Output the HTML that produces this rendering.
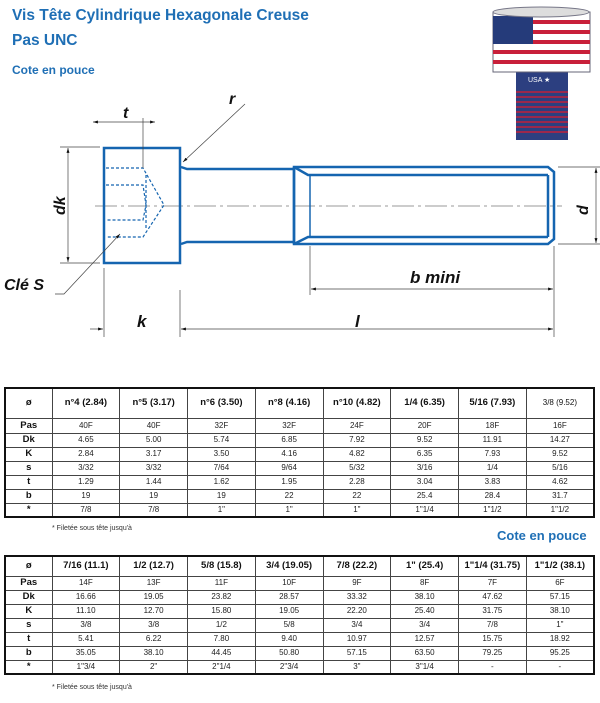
<!DOCTYPE html>
<html><head><meta charset="utf-8"><style>
body{margin:0;width:600px;height:703px;background:#fff;position:relative;overflow:hidden;font-family:"Liberation Sans",sans-serif}
.t{position:absolute;color:#1f6fb5;font-weight:bold}
table{position:absolute;left:4px;width:591px;border-collapse:collapse;border:2px solid #111;table-layout:fixed}
td{border:1px solid #444;text-align:center;font-size:8px;color:#222;padding:0;line-height:12px}
tr{height:14px}
tr.h td{font-size:9.5px;font-weight:bold;color:#111}
td:first-child{font-weight:bold;font-size:9.5px;color:#111}
.fn{position:absolute;font-size:7px;color:#333;left:52px}
</style></head><body>
<div class="t" style="left:12px;top:7px;font-size:15.5px">Vis Tête Cylindrique Hexagonale Creuse</div>
<div class="t" style="left:12px;top:32px;font-size:15.5px">Pas UNC</div>
<div class="t" style="left:12px;top:63px;font-size:12px">Cote en pouce</div>
<div class="t" style="left:497px;top:528px;font-size:13px">Cote en pouce</div>
<svg width="600" height="360" style="position:absolute;left:0;top:0">
<defs><marker id="a" viewBox="0 0 10 10" refX="10" refY="5" markerWidth="7" markerHeight="7" orient="auto-start-reverse"><path d="M0,2 L10,5 L0,8z" fill="#111"/></marker></defs>
<rect x="516" y="70" width="52" height="70" fill="#2c3f80"/>
<g stroke="#c0203a" stroke-width="1.5">
<line x1="516" y1="92" x2="568" y2="92"/><line x1="516" y1="97" x2="568" y2="97"/><line x1="516" y1="102" x2="568" y2="102"/><line x1="516" y1="107" x2="568" y2="107"/><line x1="516" y1="112" x2="568" y2="112"/><line x1="516" y1="117" x2="568" y2="117"/><line x1="516" y1="122" x2="568" y2="122"/><line x1="516" y1="127" x2="568" y2="127"/><line x1="516" y1="132" x2="568" y2="132"/></g>
<text x="528" y="82" font-size="7" fill="#fff" font-family="Liberation Sans">USA ★</text>
<rect x="493" y="12" width="97" height="60" fill="#fff" stroke="#667" />
<g fill="#c8203a"><rect x="493" y="20" width="97" height="4"/><rect x="493" y="30" width="97" height="4"/><rect x="493" y="40" width="97" height="4"/><rect x="493" y="50" width="97" height="4"/><rect x="493" y="60" width="97" height="4"/></g>
<rect x="493" y="16" width="40" height="28" fill="#253b7a"/>
<ellipse cx="541" cy="12" rx="48" ry="5" fill="#ddd" stroke="#778"/>
<line x1="95" y1="206" x2="562" y2="206" stroke="#999" stroke-width="1" stroke-dasharray="22,4,3,4"/>
<g fill="none" stroke="#1565b0" stroke-width="2.5">
<rect x="104" y="148" width="76" height="115"/>
<path d="M181,167 L187,169 L294,169 M181,244 L187,242 L294,242"/>
<path d="M294,167 L548,167 L554,172 L554,239 L548,244 L294,244 Z"/>
<line x1="294" y1="167" x2="294" y2="244"/>
<path d="M294,167 L308,175 L548,175 M294,244 L308,237 L548,237 M548,175 L548,237"/>
</g>
<line x1="310" y1="175" x2="310" y2="237" stroke="#1565b0" stroke-width="1.5"/>
<g fill="none" stroke="#1565b0" stroke-width="1.2" stroke-dasharray="3,2">
<path d="M106,168 L143,168 L164,205 L143,237 L106,237"/>
<path d="M106,185 L143,185 L146,205 L143,220 L106,220"/>
<line x1="146" y1="175" x2="146" y2="230"/>
</g>
<g stroke="#444" stroke-width="0.7" fill="none">
<line x1="60" y1="147" x2="100" y2="147"/><line x1="60" y1="263" x2="100" y2="263"/>
<line x1="68" y1="148" x2="68" y2="262" marker-start="url(#a)" marker-end="url(#a)"/>
<line x1="93" y1="122" x2="155" y2="122" marker-start="url(#a)" marker-end="url(#a)"/>
<line x1="143" y1="118" x2="143" y2="168"/>
<line x1="245" y1="104" x2="183" y2="162" marker-end="url(#a)"/>
<path d="M55,294 L64,294 L120,234" marker-end="url(#a)"/>
<line x1="104" y1="268" x2="104" y2="337"/><line x1="180" y1="290" x2="180" y2="337"/>
<line x1="310" y1="246" x2="310" y2="295"/><line x1="554" y1="246" x2="554" y2="337"/>
<line x1="558" y1="167" x2="600" y2="167"/><line x1="558" y1="244" x2="600" y2="244"/>
<line x1="596" y1="168" x2="596" y2="243" marker-start="url(#a)" marker-end="url(#a)"/>
<line x1="311" y1="289" x2="553" y2="289" marker-start="url(#a)" marker-end="url(#a)"/>
<line x1="90" y1="329" x2="103" y2="329" marker-end="url(#a)"/>
<line x1="181" y1="329" x2="553" y2="329" marker-start="url(#a)" marker-end="url(#a)"/>
</g>
<g font-family="Liberation Sans" font-style="italic" font-weight="bold" fill="#111">
<text x="123" y="118" font-size="16">t</text>
<text x="229" y="104" font-size="16">r</text>
<text transform="translate(65,215) rotate(-90)" font-size="16">dk</text>
<text transform="translate(588,215) rotate(-90)" font-size="16">d</text>
<text x="4" y="290" font-size="16">Clé S</text>
<text x="410" y="283" font-size="17">b mini</text>
<text x="137" y="327" font-size="17">k</text>
<text x="355" y="327" font-size="17">l</text>
</g>
</svg>
<table style="top:387px">
<colgroup><col style="width:47px"><col><col><col><col><col><col><col><col></colgroup>
<tr class="h" style="height:30px"><td>ø</td><td>n°4 (2.84)</td><td>n°5 (3.17)</td><td>n°6 (3.50)</td><td>n°8 (4.16)</td><td>n°10 (4.82)</td><td>1/4 (6.35)</td><td>5/16 (7.93)</td><td style="font-weight:normal;font-size:8px">3/8 (9.52)</td></tr>
<tr style="height:15px"><td>Pas</td><td>40F</td><td>40F</td><td>32F</td><td>32F</td><td>24F</td><td>20F</td><td>18F</td><td>16F</td></tr>
<tr><td>Dk</td><td>4.65</td><td>5.00</td><td>5.74</td><td>6.85</td><td>7.92</td><td>9.52</td><td>11.91</td><td>14.27</td></tr>
<tr><td>K</td><td>2.84</td><td>3.17</td><td>3.50</td><td>4.16</td><td>4.82</td><td>6.35</td><td>7.93</td><td>9.52</td></tr>
<tr><td>s</td><td>3/32</td><td>3/32</td><td>7/64</td><td>9/64</td><td>5/32</td><td>3/16</td><td>1/4</td><td>5/16</td></tr>
<tr><td>t</td><td>1.29</td><td>1.44</td><td>1.62</td><td>1.95</td><td>2.28</td><td>3.04</td><td>3.83</td><td>4.62</td></tr>
<tr><td>b</td><td>19</td><td>19</td><td>19</td><td>22</td><td>22</td><td>25.4</td><td>28.4</td><td>31.7</td></tr>
<tr><td>*</td><td>7/8</td><td>7/8</td><td>1"</td><td>1"</td><td>1"</td><td>1"1/4</td><td>1"1/2</td><td>1"1/2</td></tr>
</table>
<div class="fn" style="top:525px">* Filetée sous tête jusqu'à</div>
<table style="top:555px">
<colgroup><col style="width:47px"><col><col><col><col><col><col><col><col></colgroup>
<tr class="h" style="height:20px"><td>ø</td><td>7/16 (11.1)</td><td>1/2 (12.7)</td><td>5/8 (15.8)</td><td>3/4 (19.05)</td><td>7/8 (22.2)</td><td>1" (25.4)</td><td>1"1/4 (31.75)</td><td>1"1/2 (38.1)</td></tr>
<tr><td>Pas</td><td>14F</td><td>13F</td><td>11F</td><td>10F</td><td>9F</td><td>8F</td><td>7F</td><td>6F</td></tr>
<tr><td>Dk</td><td>16.66</td><td>19.05</td><td>23.82</td><td>28.57</td><td>33.32</td><td>38.10</td><td>47.62</td><td>57.15</td></tr>
<tr><td>K</td><td>11.10</td><td>12.70</td><td>15.80</td><td>19.05</td><td>22.20</td><td>25.40</td><td>31.75</td><td>38.10</td></tr>
<tr><td>s</td><td>3/8</td><td>3/8</td><td>1/2</td><td>5/8</td><td>3/4</td><td>3/4</td><td>7/8</td><td>1"</td></tr>
<tr><td>t</td><td>5.41</td><td>6.22</td><td>7.80</td><td>9.40</td><td>10.97</td><td>12.57</td><td>15.75</td><td>18.92</td></tr>
<tr><td>b</td><td>35.05</td><td>38.10</td><td>44.45</td><td>50.80</td><td>57.15</td><td>63.50</td><td>79.25</td><td>95.25</td></tr>
<tr><td>*</td><td>1"3/4</td><td>2"</td><td>2"1/4</td><td>2"3/4</td><td>3"</td><td>3"1/4</td><td>-</td><td>-</td></tr>
</table>
<div class="fn" style="top:684px">* Filetée sous tête jusqu'à</div>
</body></html>
